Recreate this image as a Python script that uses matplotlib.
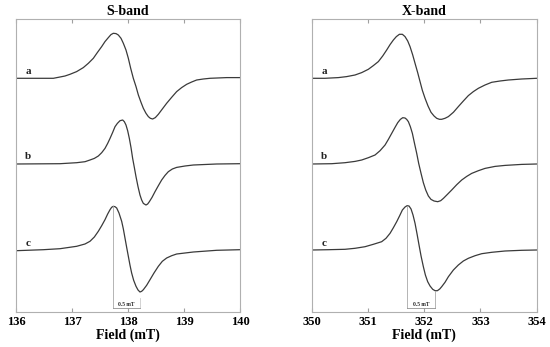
import numpy as np
import matplotlib
matplotlib.use("Agg")
import matplotlib.pyplot as plt

plt.rcParams['font.family'] = ['Liberation Serif', 'DejaVu Serif']

# campos (mT) e amplitudes (unidades arbitrarias)
s_a_field = [136.000, 136.667, 136.786, 136.875, 136.964, 137.083, 137.202, 137.292, 137.381,
             137.452, 137.530, 137.589, 137.649, 137.696, 137.738, 137.786, 137.827, 137.875,
             137.917, 137.964, 138.006, 138.048, 138.095, 138.143, 138.185, 138.232, 138.274,
             138.321, 138.363, 138.399, 138.440, 138.488, 138.542, 138.613, 138.690, 138.780,
             138.869, 138.958, 139.048, 139.137, 139.226, 139.345, 139.464, 139.762, 140.000]
s_a_amp = [0, 0, 1.3, 2.3, 4, 6.7, 10.7, 15, 20, 25.7, 31.7, 36.7, 40.7, 43.7, 45, 44.7, 43.3,
           40, 35, 28.3, 20, 10, 0, -8.3, -16.7, -24, -30, -35, -38.3, -40, -40.7, -39.3, -36,
           -30.7, -25, -19, -13.3, -9.3, -6, -3.7, -1.7, -0.7, 0, 0.7, 0.7]

s_b_field = [136.000, 136.786, 137.083, 137.232, 137.321, 137.399, 137.470, 137.530, 137.589,
             137.637, 137.679, 137.726, 137.768, 137.810, 137.857, 137.905, 137.935, 137.964,
             137.994, 138.024, 138.054, 138.083, 138.113, 138.143, 138.179, 138.214, 138.244,
             138.274, 138.321, 138.351, 138.381, 138.429, 138.482, 138.542, 138.601, 138.661,
             138.720, 138.792, 138.869, 139.018, 139.167, 139.583, 140.000]
s_b_amp = [-0.3, 0, 1, 2, 3.7, 5.3, 7.7, 11, 15.3, 20.3, 25.3, 31.3, 37, 40.3, 43, 43.7, 42,
           38.7, 33, 25.3, 16, 5.3, -3.7, -13, -23, -31.3, -36.3, -39.7, -41.3, -40.3, -38,
           -33.7, -28, -22, -16.3, -11.7, -8, -5.3, -3.7, -2.3, -1.3, -0.3, 0]

s_c_field = [136.000, 136.488, 136.786, 137.083, 137.232, 137.321, 137.399, 137.470, 137.530,
             137.589, 137.637, 137.679, 137.708, 137.738, 137.768, 137.798, 137.839, 137.887,
             137.917, 137.946, 137.976, 138.006, 138.036, 138.065, 138.101, 138.143, 138.179,
             138.214, 138.244, 138.274, 138.333, 138.393, 138.464, 138.542, 138.613, 138.690,
             138.780, 138.869, 139.018, 139.167, 139.583, 140.000]
s_c_amp = [-0.7, 0.3, 1.3, 3.7, 6, 8.7, 13, 18.7, 24.3, 30.3, 36, 40.3, 42.7, 43.7, 43.3, 42,
           37, 28.7, 21, 12, 2.7, -6.3, -15.3, -23, -30.3, -36.3, -40, -42, -41.3, -39.7,
           -35.3, -29.7, -23, -16.3, -11.3, -8, -5.7, -4, -3, -2, -0.3, 0.3]

x_a_field = [350.000, 350.237, 350.474, 350.622, 350.770, 350.889, 351.007, 351.096, 351.185,
             351.262, 351.333, 351.393, 351.452, 351.505, 351.559, 351.612, 351.659, 351.707,
             351.748, 351.796, 351.837, 351.884, 351.926, 351.967, 352.015, 352.068, 352.121,
             352.175, 352.222, 352.270, 352.311, 352.370, 352.430, 352.519, 352.607, 352.696,
             352.785, 352.874, 352.963, 353.081, 353.200, 353.348, 353.496, 353.733, 354.000]
x_a_amp = [0, 0, 0.7, 1.7, 3.3, 5.7, 9, 12.7, 16.7, 22.3, 28.3, 33.7, 38.3, 41.7, 44, 44,
           41.7, 37.3, 31.7, 23.3, 15, 5.7, -3.3, -12, -20, -27.7, -34, -37.7, -40, -41, -41,
           -40, -38.3, -34, -28.3, -22.7, -17.3, -13.3, -10, -6.7, -4, -2.7, -1.7, -0.7, 0]

x_b_field = [350.000, 350.356, 350.593, 350.770, 350.889, 351.007, 351.126, 351.215, 351.304,
             351.363, 351.422, 351.481, 351.529, 351.576, 351.618, 351.659, 351.689, 351.719,
             351.754, 351.790, 351.825, 351.867, 351.902, 351.944, 351.985, 352.027, 352.074,
             352.121, 352.175, 352.240, 352.293, 352.341, 352.412, 352.489, 352.578, 352.667,
             352.756, 352.844, 352.963, 353.081, 353.259, 353.437, 353.733, 354.000]
x_b_amp = [-0.3, 0, 1, 2.3, 3.7, 6, 8.7, 13, 18.7, 24.3, 30.3, 36.3, 41, 44.3, 46, 45.7,
           44.3, 42, 37, 30.3, 21, 10.3, 0.3, -9.7, -19, -26.3, -32.3, -35.7, -37.3, -38, -37,
           -34.7, -30.7, -26.3, -21, -16.3, -12.7, -9.7, -7, -4.7, -2.7, -1.7, -0.7, -0.3]

x_c_field = [350.000, 350.296, 350.593, 350.770, 350.948, 351.096, 351.244, 351.321, 351.393,
             351.452, 351.511, 351.564, 351.612, 351.659, 351.695, 351.730, 351.766, 351.801,
             351.837, 351.873, 351.908, 351.944, 351.985, 352.021, 352.062, 352.104, 352.151,
             352.193, 352.234, 352.276, 352.311, 352.370, 352.430, 352.519, 352.607, 352.696,
             352.785, 352.904, 353.022, 353.200, 353.437, 353.733, 354.000]
x_c_amp = [0, 0.3, 0.7, 1.7, 3.3, 5.7, 8.3, 11.7, 16.7, 22.3, 28.3, 34.3, 40, 43, 44.3, 44,
           41, 35, 26.7, 16, 5, -6, -16.7, -25, -31.7, -36, -39.3, -40.7, -40.7, -39, -36.7,
           -32.3, -26.7, -20, -15, -11, -8.3, -5.7, -3.7, -2.3, -1, -0.3, 0]

labels = ['a', 'b', 'c']
offsets = [233.7, 148.3, 62]
s_ticks = [136, 137, 138, 139, 140]
x_ticks = [350, 351, 352, 353, 354]

fig = plt.figure(figsize=(5.5, 3.47), dpi=100)
ax1 = fig.add_axes([16/550, 1-312/347, 224/550, 293/347])
ax2 = fig.add_axes([311.7/550, 1-312/347, 225/550, 293/347])

panels = [
    (ax1, 'S-band', s_ticks, [(s_a_field, s_a_amp), (s_b_field, s_b_amp), (s_c_field, s_c_amp)], False),
    (ax2, 'X-band', x_ticks, [(x_a_field, x_a_amp), (x_b_field, x_b_amp), (x_c_field, x_c_amp)], True),
]

for ax, title, ticks, traces, full_right in panels:
    for (f, a), off, lab in zip(traces, offsets, labels):
        ax.plot(f, np.array(a) + off, c='#3a3a3a', lw=0.9)
        ax.text(ticks[0] + 0.22, off + 7, lab, fontsize=8, fontweight='bold',
                ha='center', va='center', color='#222222')

    # marcador de 0.5 mT no espectro c
    f, a = traces[2]
    f = np.array(f); a = np.array(a)
    fp = f[np.argmax(a)]; ft = f[np.argmin(a)]
    yb = 4
    ax.plot([fp, fp], [offsets[2] + a.max(), yb], c='#a8a8a8', lw=0.6)
    if full_right:
        ax.plot([ft, ft], [offsets[2] + a.min(), yb], c='#a8a8a8', lw=0.6)
    else:
        ax.plot([ft, ft], [yb + 10, yb], c='#c0c0c0', lw=0.5)
    ax.plot([fp, ft], [yb, yb], c='#909090', lw=0.6)
    ax.text((fp + ft) / 2, yb + 1.5, '0.5 mT', fontsize=4, fontweight='bold',
            ha='center', va='bottom', color='#222222')

    ax.set_xlim(ticks[0], ticks[-1])
    ax.set_ylim(0, 293)
    ax.set_xticks(ticks)
    ax.set_yticks([])
    ax.tick_params(axis='x', direction='in', top=True, length=3, color='#a0a0a0',
                   labelsize=9, pad=3)
    for lbl in ax.get_xticklabels():
        lbl.set_fontweight('bold')
    for sp in ax.spines.values():
        sp.set_color('#b0b0b0')
        sp.set_linewidth(0.8)
    ax.set_title(title, fontsize=10, fontweight='bold', pad=3)
    ax.set_xlabel('Field (mT)', fontsize=10, fontweight='bold', labelpad=0)

plt.savefig('out.png', dpi=100)
